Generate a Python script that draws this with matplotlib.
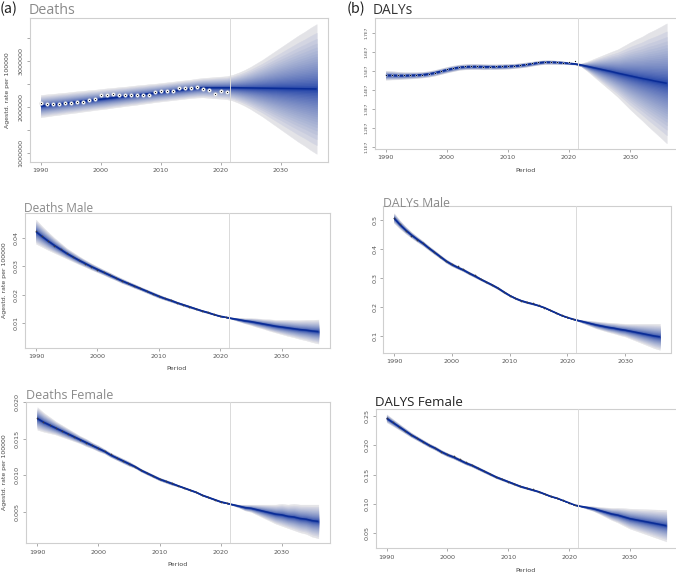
import numpy as np
import matplotlib
matplotlib.use("Agg")
import matplotlib.pyplot as plt
from matplotlib.colors import to_rgb
from statistics import NormalDist

W, H = 676, 574

years = list(range(1990, 2037))
obs_years = list(range(1990, 2022))
x_ticks = [1990, 2000, 2010, 2020, 2030]
split_year = 2021.5

# ---------------- (a) Deaths (values x 1e6) ----------------
obs_a = [2.09, 2.07, 2.07, 2.07, 2.08, 2.08, 2.10, 2.11, 2.145, 2.17, 2.25, 2.27, 2.275, 2.25, 2.25, 2.255,
         2.255, 2.26, 2.27, 2.32, 2.34, 2.35, 2.35, 2.41, 2.42, 2.42, 2.435, 2.39, 2.38, 2.29, 2.34, 2.33]
fit_a = [2.02, 2.035, 2.05, 2.065, 2.08, 2.095, 2.11, 2.125, 2.14, 2.155, 2.17, 2.185, 2.20, 2.215, 2.23, 2.245,
         2.26, 2.275, 2.29, 2.305, 2.32, 2.335, 2.35, 2.365, 2.38, 2.395, 2.41, 2.42, 2.42, 2.42, 2.42, 2.42,
         2.42, 2.418, 2.416, 2.414, 2.412, 2.41, 2.408, 2.406, 2.404, 2.402, 2.40, 2.398, 2.396, 2.394, 2.392]
spread_a = [0.24, 0.24, 0.235, 0.235, 0.23, 0.23, 0.23, 0.225, 0.225, 0.22, 0.22, 0.22, 0.215, 0.215, 0.21, 0.21,
            0.21, 0.205, 0.205, 0.2, 0.2, 0.2, 0.2, 0.2, 0.2, 0.2, 0.205, 0.21, 0.22, 0.23, 0.24, 0.25,
            0.28, 0.33, 0.39, 0.46, 0.54, 0.62, 0.71, 0.80, 0.89, 0.98, 1.07, 1.16, 1.24, 1.33, 1.41]
yticks_a = [1.0, 1.5, 2.0, 2.5, 3.0, 3.5]
ylabels_a = ["1000000", "", "2000000", "", "3000000", ""]

# ---------------- (b) DALYs (values x 1e6) ----------------
obs_b = [14.78, 14.77, 14.77, 14.76, 14.77, 14.78, 14.80, 14.84, 14.91, 15.00, 15.08, 15.15, 15.22, 15.26, 15.25, 15.24,
         15.23, 15.23, 15.24, 15.24, 15.26, 15.27, 15.29, 15.34, 15.39, 15.45, 15.48, 15.48, 15.46, 15.43, 15.45, 15.50]
fit_b = [14.77, 14.77, 14.76, 14.76, 14.77, 14.78, 14.80, 14.84, 14.90, 14.98, 15.06, 15.13, 15.19, 15.22, 15.23, 15.23,
         15.22, 15.22, 15.22, 15.23, 15.24, 15.26, 15.29, 15.33, 15.38, 15.43, 15.46, 15.46, 15.45, 15.43, 15.40, 15.37,
         15.31, 15.24, 15.17, 15.10, 15.03, 14.96, 14.88, 14.81, 14.74, 14.67, 14.60, 14.54, 14.47, 14.41, 14.35]
spread_b = [0.24, 0.22, 0.2, 0.18, 0.17, 0.16, 0.15, 0.15, 0.15, 0.15, 0.15, 0.15, 0.14, 0.14, 0.14, 0.14,
            0.14, 0.13, 0.13, 0.13, 0.13, 0.12, 0.12, 0.12, 0.11, 0.11, 0.1, 0.1, 0.09, 0.08, 0.06, 0.04,
            0.08, 0.25, 0.45, 0.65, 0.85, 1.05, 1.25, 1.5, 1.75, 1.98, 2.2, 2.45, 2.67, 2.9, 3.14]
yticks_b = [11, 12, 13, 14, 15, 16, 17]
ylabels_b = ["1.1E7", "1.2E7", "1.3E7", "1.4E7", "1.5E7", "1.6E7", "1.7E7"]

# ---------------- Deaths Male ----------------
obs_c = [0.0423, 0.0405, 0.0388, 0.0372, 0.0359, 0.0346, 0.0333, 0.0321, 0.0309, 0.0299, 0.0288, 0.0279, 0.0269,
         0.0258, 0.0249, 0.0240, 0.0231, 0.0222, 0.0213, 0.0204, 0.0195, 0.0187, 0.0180, 0.0172, 0.0165, 0.0158,
         0.0151, 0.0144, 0.0138, 0.0131, 0.0125, 0.0121]
fit_c = [0.0421, 0.0404, 0.0388, 0.0373, 0.0359, 0.0345, 0.0333, 0.0321, 0.0310, 0.0299, 0.0289, 0.0279, 0.0269,
         0.0259, 0.0249, 0.0240, 0.0231, 0.0222, 0.0213, 0.0204, 0.0195, 0.0187, 0.0180, 0.0172, 0.0165, 0.0158,
         0.0151, 0.0144, 0.0138, 0.0131, 0.0125, 0.0121, 0.0117, 0.0113, 0.0109, 0.0106, 0.0102, 0.0098, 0.0094,
         0.0090, 0.0087, 0.0084, 0.0081, 0.0078, 0.0076, 0.0073, 0.0071]
spread_c = [0.0042, 0.0036, 0.0031, 0.0026, 0.0022, 0.0018, 0.0016, 0.0014, 0.0012, 0.0011, 0.0010, 0.0009, 0.0009,
            0.0008, 0.0008, 0.0007, 0.0007, 0.0006, 0.0006, 0.0006, 0.0006, 0.0005, 0.0005, 0.0004, 0.0004, 0.0004,
            0.0003, 0.0003, 0.0003, 0.0002, 0.0002, 0.0001, 0.0003, 0.0006, 0.0009, 0.0012, 0.0015, 0.0017, 0.0020,
            0.0022, 0.0025, 0.0028, 0.0030, 0.0033, 0.0036, 0.0039, 0.0042]
yticks_c = [0.01, 0.02, 0.03, 0.04]
ylabels_c = ["0.01", "0.02", "0.03", "0.04"]

# ---------------- DALYs Male ----------------
obs_d = [0.506, 0.485, 0.463, 0.446, 0.432, 0.419, 0.404, 0.389, 0.373, 0.359, 0.347, 0.339, 0.331, 0.318, 0.308,
         0.295, 0.285, 0.275, 0.264, 0.251, 0.238, 0.229, 0.221, 0.217, 0.212, 0.206, 0.197, 0.188, 0.179, 0.170,
         0.163, 0.158]
fit_d = [0.506, 0.484, 0.465, 0.448, 0.433, 0.419, 0.403, 0.388, 0.373, 0.358, 0.346, 0.336, 0.327, 0.316, 0.306,
         0.295, 0.285, 0.275, 0.264, 0.251, 0.239, 0.229, 0.221, 0.215, 0.210, 0.204, 0.197, 0.188, 0.179, 0.170,
         0.163, 0.157, 0.152, 0.147, 0.142, 0.137, 0.133, 0.129, 0.126, 0.122, 0.119, 0.115, 0.111, 0.107, 0.103,
         0.099, 0.096]
spread_d = [0.017, 0.014, 0.012, 0.010, 0.009, 0.008, 0.007, 0.007, 0.006, 0.006, 0.006, 0.005, 0.005, 0.005, 0.005,
            0.004, 0.004, 0.004, 0.004, 0.004, 0.003, 0.003, 0.003, 0.003, 0.003, 0.002, 0.002, 0.002, 0.002, 0.002,
            0.001, 0.001, 0.003, 0.006, 0.009, 0.012, 0.014, 0.016, 0.018, 0.020, 0.022, 0.026, 0.030, 0.034, 0.038,
            0.042, 0.045]
yticks_d = [0.1, 0.2, 0.3, 0.4, 0.5]
ylabels_d = ["0.1", "0.2", "0.3", "0.4", "0.5"]

# ---------------- Deaths Female ----------------
obs_e = [0.0179, 0.0173, 0.0169, 0.0165, 0.0161, 0.0157, 0.0153, 0.0149, 0.0145, 0.0141, 0.0137, 0.0133, 0.0129,
         0.0124, 0.0120, 0.0116, 0.0112, 0.0107, 0.0103, 0.0099, 0.0095, 0.0092, 0.0089, 0.0086, 0.0083, 0.0080,
         0.0077, 0.0073, 0.0070, 0.0067, 0.0064, 0.0062]
fit_e = [0.0178, 0.0173, 0.0169, 0.0165, 0.0161, 0.0157, 0.0153, 0.0149, 0.0145, 0.0141, 0.0137, 0.0133, 0.0128,
         0.0124, 0.0120, 0.0116, 0.0112, 0.0107, 0.0103, 0.0099, 0.0095, 0.0092, 0.0089, 0.0086, 0.0083, 0.0080,
         0.0077, 0.0073, 0.0070, 0.0067, 0.0064, 0.0062, 0.0060, 0.0058, 0.0056, 0.0055, 0.0053, 0.0051, 0.0049,
         0.0047, 0.0046, 0.0044, 0.0043, 0.0041, 0.0040, 0.0038, 0.0037]
spread_e = [0.00154, 0.0013, 0.0011, 0.0009, 0.0008, 0.0007, 0.0006, 0.0005, 0.0005, 0.0004, 0.0004, 0.0003, 0.0003,
            0.0003, 0.0003, 0.0003, 0.0002, 0.0002, 0.0002, 0.0002, 0.0002, 0.0002, 0.0002, 0.0001, 0.0001, 0.0001,
            0.0001, 0.0001, 0.0001, 0.0001, 0.0001, 0.00005, 0.0001, 0.0002, 0.0004, 0.0005, 0.0007, 0.0009, 0.0011,
            0.0013, 0.0015, 0.0016, 0.0018, 0.0019, 0.0020, 0.0022, 0.0023]
yticks_e = [0.005, 0.010, 0.015, 0.020]
ylabels_e = ["0.005", "0.010", "0.015", "0.020"]

# ---------------- DALYS Female ----------------
obs_f = [0.247, 0.239, 0.232, 0.225, 0.218, 0.212, 0.206, 0.200, 0.195, 0.189, 0.185, 0.181, 0.176, 0.171, 0.166,
         0.161, 0.156, 0.151, 0.146, 0.142, 0.138, 0.134, 0.130, 0.127, 0.125, 0.121, 0.117, 0.113, 0.110, 0.106,
         0.102, 0.099]
fit_f = [0.246, 0.239, 0.232, 0.225, 0.218, 0.212, 0.206, 0.200, 0.195, 0.189, 0.184, 0.180, 0.175, 0.170, 0.166,
         0.161, 0.156, 0.151, 0.146, 0.142, 0.138, 0.134, 0.130, 0.127, 0.124, 0.121, 0.117, 0.113, 0.110, 0.106,
         0.102, 0.098, 0.096, 0.094, 0.092, 0.089, 0.086, 0.083, 0.081, 0.078, 0.075, 0.073, 0.071, 0.069, 0.067,
         0.065, 0.063]
spread_f = [0.0068, 0.0058, 0.0050, 0.0044, 0.0039, 0.0035, 0.0033, 0.0032, 0.0031, 0.0030, 0.0030, 0.0029, 0.0028,
            0.0027, 0.0026, 0.0025, 0.0024, 0.0022, 0.0021, 0.0020, 0.0018, 0.0017, 0.0016, 0.0015, 0.0014, 0.0012,
            0.0011, 0.0010, 0.0008, 0.0007, 0.0005, 0.0002, 0.0010, 0.0025, 0.0040, 0.0057, 0.0080, 0.0103, 0.0125,
            0.0148, 0.0170, 0.0186, 0.0202, 0.0218, 0.0235, 0.0251, 0.0267]
yticks_f = [0.05, 0.10, 0.15, 0.20, 0.25]
ylabels_f = ["0.05", "0.10", "0.15", "0.20", "0.25"]

# ---------------- styling ----------------
INNER = np.array(to_rgb("#0A2FA0"))
OUTER = np.array(to_rgb("#E3E3E7"))
LINE = "#0A2C96"
BOX = "#CFCFCF"
TICKC = "#555555"
N_LEVELS = 24
z975 = NormalDist().inv_cdf(0.975)
fracs = [NormalDist().inv_cdf(0.5 + 0.475 * k / N_LEVELS) / z975 for k in range(1, N_LEVELS + 1)]

fig = plt.figure(figsize=(W / 100, H / 100), dpi=100)


def add_ax(x0, y0, x1, y1):
    return fig.add_axes([x0 / W, 1 - y1 / H, (x1 - x0) / W, (y1 - y0) / H])


def draw_panel(ax, fit, spread, obs, yticks, ylabels, ylim, marker="dot", scale=1.0, ytick_fs=4.6):
    yr = np.array(years, dtype=float)
    f = np.array(fit) * scale
    s = np.array(spread) * scale
    for k in range(N_LEVELS, 0, -1):
        fr = fracs[k - 1]
        t = min(1.0, fr ** 0.55)
        col = tuple(INNER + (OUTER - INNER) * t)
        ax.fill_between(yr, f - fr * s, f + fr * s, facecolor=col, edgecolor=col, lw=0.3, zorder=1)
    ax.plot(yr, f, color=LINE, lw=1.1, zorder=2, solid_capstyle="butt")
    ax.axvline(split_year, color="#DADADA", lw=0.7, zorder=3)
    o = np.array(obs) * scale
    if marker == "circle":
        ax.plot(obs_years, o, ls="none", marker="o", ms=2.6, mfc="white", mec="#D0D0D0", mew=0.3, zorder=4)
        ax.plot(obs_years, o, ls="none", marker="o", ms=0.9, mfc="#111111", mec="none", zorder=5)
    elif marker == "halo":
        ax.plot(obs_years, o, ls="none", marker="o", ms=1.9, mfc="white", mec="none", alpha=0.6, zorder=4)
        ax.plot(obs_years, o, ls="none", marker="o", ms=0.9, mfc="#111111", mec="none", zorder=5)
    else:
        ax.plot(obs_years, o, ls="none", marker="o", ms=1.2, mfc="#3A3A48", mec="none", zorder=5)
    ax.set_xlim(1988.16, 2037.84)
    ax.set_ylim(*ylim)
    ax.set_xticks(x_ticks)
    ax.set_xticklabels([str(v) for v in x_ticks], fontsize=4.6, color=TICKC)
    ax.set_yticks([v * scale for v in yticks])
    ax.set_yticklabels(ylabels, fontsize=ytick_fs, color=TICKC, rotation=90, va="center")
    ax.tick_params(length=2.5, width=0.5, color="#888888", pad=2)
    for sp in ax.spines.values():
        sp.set_color(BOX)
        sp.set_linewidth(0.8)
    ax.set_facecolor("white")


# axes (pixel boxes)
ax_a = add_ax(29.7, 18, 327.7, 162)
ax_b = add_ax(374.5, 18, 678, 149)
ax_c = add_ax(24.7, 213, 329.7, 348)
ax_d = add_ax(383.4, 206, 670.5, 353)
ax_e = add_ax(26.1, 401.7, 329.6, 543.3)
ax_f = add_ax(375.5, 409.3, 677.5, 548.3)

draw_panel(ax_a, fit_a, spread_a, obs_a, yticks_a, ylabels_a, (0.804, 3.935), marker="circle")
draw_panel(ax_b, fit_b, spread_b, obs_b, yticks_b, ylabels_b, (10.91, 17.77), marker="halo", ytick_fs=3.2)
draw_panel(ax_c, fit_c, spread_c, obs_c, yticks_c, ylabels_c, (0.00134, 0.04866))
draw_panel(ax_d, fit_d, spread_d, obs_d, yticks_d, ylabels_d, (0.040, 0.548))
draw_panel(ax_e, fit_e, spread_e, obs_e, yticks_e, ylabels_e, (0.0007, 0.0201))
draw_panel(ax_f, fit_f, spread_f, obs_f, yticks_f, ylabels_f, (0.0244, 0.2614))


def ftext(x, y, s, **kw):
    fig.text(x / W, 1 - y / H, s, **kw)


# y labels
ylab = "Agestd. rate per 100000"
ftext(8, 90, ylab, rotation=90, ha="center", va="center", fontsize=4.4, color="#444444")
ftext(5, 280, ylab, rotation=90, ha="center", va="center", fontsize=4.4, color="#444444")
ftext(5, 472, ylab, rotation=90, ha="center", va="center", fontsize=4.4, color="#444444")

# x labels
ftext(526, 171, "Period", ha="center", va="center", fontsize=4.6, color="#444444")
ftext(177, 369, "Period", ha="center", va="center", fontsize=4.6, color="#444444")
ftext(178, 564, "Period", ha="center", va="center", fontsize=4.6, color="#444444")
ftext(526, 570, "Period", ha="center", va="center", fontsize=4.6, color="#444444")

# titles
TF = ["Open Sans", "DejaVu Sans"]
ftext(0, 13.5, "(a)", fontsize=10.3, color="#222222", family=["Noto Sans CJK SC", "DejaVu Sans"], va="baseline")
ftext(29, 13.5, "Deaths", fontsize=10.3, color="#8A8A8A", family=TF, va="baseline")
ftext(347, 13.5, "(b)", fontsize=10.3, color="#222222", family=["Noto Sans CJK SC", "DejaVu Sans"], va="baseline")
ftext(373, 13.5, "DALYs", fontsize=9.9, color="#333333", family=TF, va="baseline")
ftext(24, 211.7, "Deaths Male", fontsize=8.6, color="#8A8A8A", family=TF, va="baseline")
ftext(383, 206.7, "DALYs Male", fontsize=8.8, color="#8A8A8A", family=TF, va="baseline")
ftext(26, 399.3, "Deaths Female", fontsize=9.0, color="#8A8A8A", family=TF, va="baseline")
ftext(375, 406, "DALYS Female", fontsize=9.5, color="#222222", family=TF, va="baseline")

fig.savefig("out.png", dpi=100, facecolor="white")
